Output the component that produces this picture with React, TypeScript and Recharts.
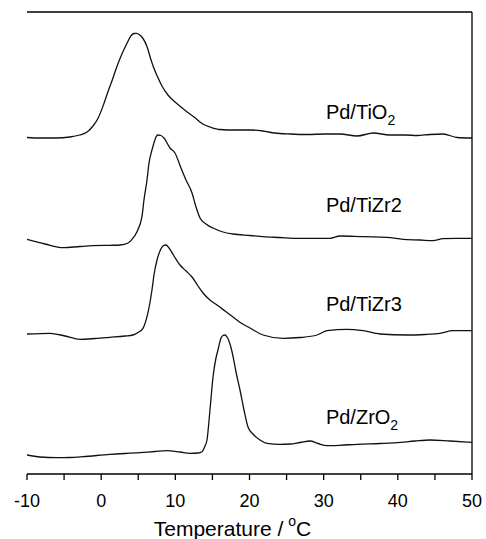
import React from 'react';
import { LineChart, Line, XAxis, YAxis, ReferenceLine, ReferenceDot } from 'recharts';

// Temperature (°C) and signal (a.u., curves offset vertically as in the figure)
const tio2T = [-10, -8.2, -6.2, -4.2, -2.9, -1.9, -1.1, -0.4, 0.3, 0.9, 1.5, 2.1, 2.8, 3.5, 4.0, 4.4, 4.8, 5.2, 5.6, 6.2, 6.6, 7.0, 7.5, 8.2, 9.0, 9.8, 10.6, 11.6, 12.7, 13.7, 14.7, 16.0, 18.0, 20.1, 21.8, 23.4, 25.5, 27.8, 30.2, 32.2, 34.5, 36.7, 38.9, 41.0, 42.6, 44.3, 46.1, 48.0, 50];
const tio2V = [336.5, 336, 336, 337, 339, 342, 348, 356, 369, 382, 394, 407, 420, 431, 438, 440.5, 440.7, 439, 436, 427, 417, 408, 399, 388, 379, 373, 368, 362, 356, 350, 347, 344.5, 344, 344, 343, 341, 340, 339.5, 340, 340, 338, 341, 339, 339, 338.5, 339.5, 340, 336.5, 336];

const tizr2T = [-10, -7.57, -5.15, -2.85, -1.1, 1.19, 2.54, 3.62, 4.16, 4.83, 5.5, 5.77, 6.18, 6.45, 6.85, 7.12, 7.39, 7.66, 8.06, 8.47, 9.28, 9.95, 10.76, 11.44, 12.25, 12.79, 13.33, 14.13, 15.08, 16.43, 17.77, 20.07, 21.82, 24.11, 26.4, 30.85, 32.2, 35.3, 38.54, 40.69, 42.99, 44.74, 46.09, 47.98, 50];
const tizr2V = [234.7, 230, 226.3, 227.5, 228.3, 228.7, 229, 231, 234.7, 242.3, 257.3, 274, 294, 311, 324, 331, 337, 339, 338.5, 336, 326, 321, 306, 294, 281, 267, 256, 250, 246, 242, 240, 238.5, 237.3, 236.5, 235.7, 235.7, 238, 237.3, 236.7, 234.7, 234, 233.3, 235.3, 235.7, 235.7];

const tizr3T = [-10, -6.9, -4.88, -2.85, -0.83, 1.19, 3.21, 4.29, 4.97, 5.64, 6.18, 6.52, 6.85, 7.12, 7.53, 7.93, 8.33, 8.74, 9.15, 9.82, 10.63, 11.44, 12.25, 13.06, 13.73, 14.67, 15.62, 16.7, 17.77, 18.85, 20.07, 21.82, 24.52, 26.81, 29.1, 30.45, 33.14, 35.3, 37.59, 41.23, 43.66, 45.68, 47.44, 50];
const tizr3V = [140, 140.7, 138, 134.7, 135.5, 136.7, 138, 139, 141.5, 145.7, 157.3, 169, 184, 199, 214, 223, 228, 229, 226, 218, 209, 203, 197, 188, 181, 174, 169, 163, 157, 151, 146, 139, 135.7, 136.5, 139, 143.3, 144.7, 143.3, 140, 139, 139.5, 140.7, 143.3, 143.3];

const zro2T = [-10, -8.25, -5.96, -4.2, -2.45, 1.19, 5.24, 7.26, 8.88, 10.63, 11.98, 13.06, 13.6, 14.0, 14.27, 14.67, 15.08, 15.48, 15.75, 16.16, 16.43, 16.7, 16.97, 17.37, 17.77, 18.18, 18.72, 19.26, 19.8, 20.47, 21.41, 22.36, 24.11, 25.46, 26.81, 28.16, 29.24, 30.45, 32.2, 34.49, 37.59, 39.89, 42.31, 44.33, 47.03, 50];
const zro2V = [19, 17, 16.3, 16.5, 17.3, 19.7, 21.3, 22.5, 23.3, 22, 20.7, 21, 22.3, 28, 34, 64, 97, 116, 124, 136, 138.5, 139, 137, 130, 118, 102, 84, 64, 47, 40, 34, 30.7, 29.7, 30, 31.5, 33, 30.5, 28.3, 28.7, 29.7, 30.5, 31.3, 33, 34, 33, 31.7];

const xTicks = [-10, -5, 0, 5, 10, 15, 20, 25, 30, 35, 40, 45, 50];

const toData = (t: number[], v: number[]) => t.map((x, i) => ({ t: x, v: v[i] }));

const series = [
  { name: 'Pd/TiO', sub: '2', data: toData(tio2T, tio2V) },
  { name: 'Pd/TiZr2', sub: '', data: toData(tizr2T, tizr2V) },
  { name: 'Pd/TiZr3', sub: '', data: toData(tizr3T, tizr3V) },
  { name: 'Pd/ZrO', sub: '2', data: toData(zro2T, zro2V) },
];

// label anchor positions (layout)
const labelX = 30.3;
const labelY = [362, 269, 170, 57];

const FONT = '"Liberation Sans", Arial, sans-serif';

const makeTag = (name: string, sub: string) => (props: any) => {
  const vb = props.viewBox || {};
  const x = (vb.x ?? 0) + (vb.width ?? 0) / 2;
  const y = (vb.y ?? 0) + (vb.height ?? 0) / 2;
  return (
    <text x={x} y={y + 7} fontFamily={FONT} fontSize={20} fill="#000" textAnchor="start">
      {name}
      {sub ? <tspan fontSize={14} dy={6}>{sub}</tspan> : null}
    </text>
  );
};

const AxisTitle = (props: any) => {
  const vb = props.viewBox || {};
  const cx = vb.x + vb.width / 2 - 17;
  const y = vb.y + 62;
  return (
    <text x={cx} y={y} fontFamily={FONT} fontSize={21} fill="#000" textAnchor="middle">
      Temperature /
      <tspan fontSize={14} dy={-10} dx={5}>o</tspan>
      <tspan dy={10}>C</tspan>
    </text>
  );
};

export default function App() {
  return (
    <div style={{ position: 'absolute', left: 0, top: 0, background: '#fff' }}>
      <LineChart width={486} height={539} margin={{ top: 12, right: 14, left: 27, bottom: 0 }}>
        <XAxis
          dataKey="t"
          type="number"
          domain={[-10, 50]}
          ticks={xTicks}
          interval={0}
          allowDataOverflow
          height={65}
          tickSize={6}
          tickMargin={14}
          tickFormatter={(v: number) => (v % 10 === 0 ? String(v) : '')}
          tick={{ fontSize: 18, fill: '#000', fontFamily: FONT }}
          stroke="#000"
          strokeWidth={1.3}
          label={{ content: AxisTitle }}
        />
        <YAxis
          type="number"
          domain={[0, 462]}
          allowDataOverflow
          width={0}
          tick={false}
          tickLine={false}
          stroke="#000"
          strokeWidth={1.3}
        />
        <ReferenceLine y={462} stroke="#000" strokeWidth={1.3} />
        <ReferenceLine x={50} stroke="#000" strokeWidth={1.3} />
        {series.map((s) => (
          <Line
            key={s.name}
            data={s.data}
            dataKey="v"
            type="monotone"
            dot={false}
            stroke="#111"
            strokeWidth={1.3}
            isAnimationActive={false}
          />
        ))}
        {series.map((s, i) => (
          <ReferenceDot
            key={'lbl' + i}
            x={labelX}
            y={labelY[i]}
            r={0}
            fill="none"
            stroke="none"
            label={makeTag(s.name, s.sub)}
          />
        ))}
      </LineChart>
    </div>
  );
}
